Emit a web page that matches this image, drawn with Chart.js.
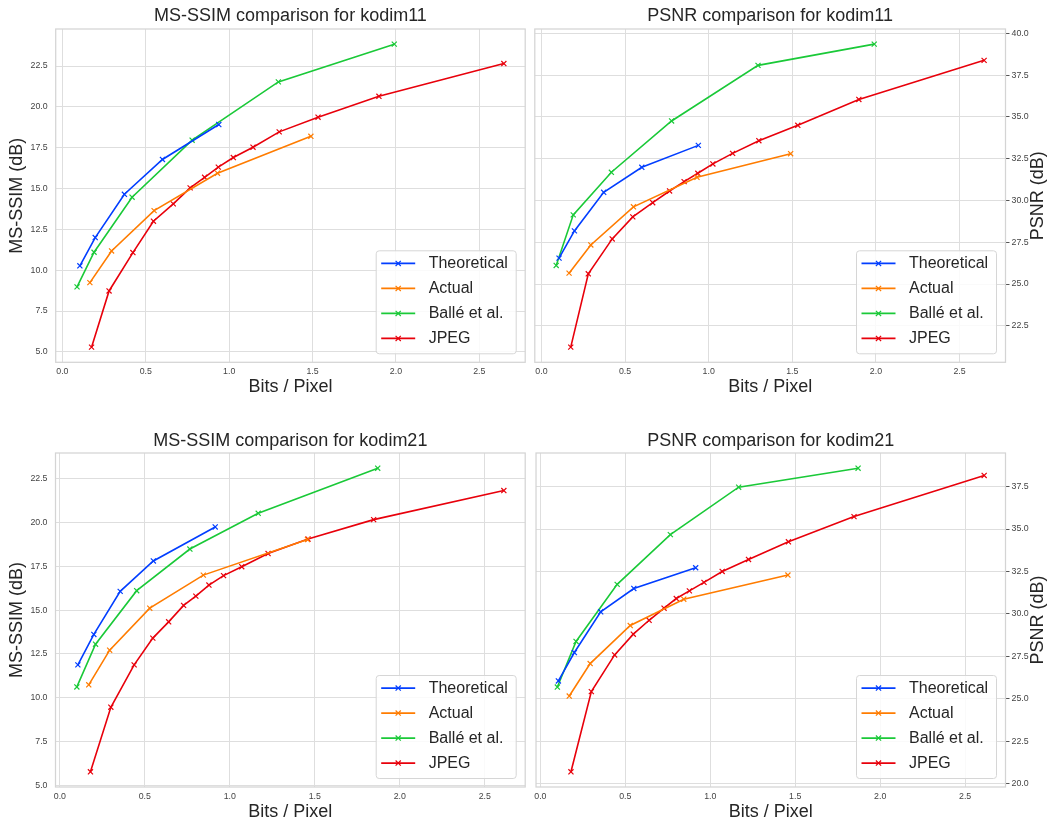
<!DOCTYPE html>
<html lang="en">
<head>
  <meta charset="UTF-8" />
  <title>MS-SSIM / PSNR comparison</title>
  <script src="https://cdn.jsdelivr.net/npm/chart.js"></script>
  <style>
    body {
      margin: 0;
      background: #fff;
    }
    #wrap {
      position: relative;
      width: 1049px;
      height: 821px;
      background: #fff;
    }
    .panel {
      position: absolute;
    }
  </style>
</head>
<body>

  <div id="wrap">
    <div class="panel" style="left:0;top:0;width:530px;height:410px;"><canvas id="ssim11"></canvas></div>
    <div class="panel" style="left:530px;top:0;width:519px;height:410px;"><canvas id="psnr11"></canvas></div>
    <div class="panel" style="left:0;top:410px;width:530px;height:411px;"><canvas id="ssim21"></canvas></div>
    <div class="panel" style="left:530px;top:410px;width:519px;height:411px;"><canvas id="psnr21"></canvas></div>
  </div>

  <script>
    const fontFamily = '"Liberation Sans", Arial, sans-serif';
    Chart.defaults.font.family = fontFamily;
    Chart.defaults.color = '#444';

    // tick labels
    const xTicks = [0, 0.5, 1, 1.5, 2, 2.5];
    const ssimTicks = [5, 7.5, 10, 12.5, 15, 17.5, 20, 22.5];
    const psnr11Ticks = [22.5, 25, 27.5, 30, 32.5, 35, 37.5, 40];
    const psnr21Ticks = [20, 22.5, 25, 27.5, 30, 32.5, 35, 37.5];

    const seriesNames = ['Theoretical', 'Actual', 'Ballé et al.', 'JPEG'];
    const seriesColors = ['#023eff', '#ff7c00', '#1ac938', '#e8000b'];

    // kodim11 - bits per pixel
    const k11TheoBpp = [0.105, 0.197, 0.372, 0.600, 0.938];
    const k11ActBpp = [0.165, 0.295, 0.55, 0.93, 1.49];
    const k11BalleBpp = [0.088, 0.19, 0.418, 0.778, 1.295, 1.99];
    const k11JpegBpp = [0.175, 0.28, 0.423, 0.546, 0.665, 0.766, 0.853, 0.935, 1.025, 1.143, 1.30, 1.533, 1.898, 2.647];

    // kodim11 - MS-SSIM (dB)
    const k11TheoSsim = [10.27, 12.0, 14.65, 16.78, 18.92];
    const k11ActSsim = [9.24, 11.18, 13.65, 15.94, 18.2];
    const k11BalleSsim = [8.98, 11.1, 14.47, 17.96, 21.53, 23.84];
    const k11JpegSsim = [5.29, 8.73, 11.08, 13.0, 14.06, 15.04, 15.69, 16.31, 16.9, 17.53, 18.47, 19.37, 20.65, 22.65];

    // kodim11 - PSNR (dB)
    const k11TheoPsnr = [26.55, 28.18, 30.49, 31.99, 33.30];
    const k11ActPsnr = [25.65, 27.34, 29.62, 31.39, 32.80];
    const k11BallePsnr = [26.11, 29.14, 31.69, 34.76, 38.09, 39.36];
    const k11JpegPsnr = [21.22, 25.61, 27.70, 29.02, 29.87, 30.57, 31.13, 31.63, 32.19, 32.82, 33.58, 34.50, 36.05, 38.39];

    // kodim21 - bits per pixel
    const k21TheoBpp = [0.106, 0.2, 0.355, 0.55, 0.914];
    const k21ActBpp = [0.17, 0.293, 0.529, 0.844, 1.457];
    const k21BalleBpp = [0.1, 0.21, 0.452, 0.765, 1.167, 1.87];
    const k21JpegBpp = [0.18, 0.30, 0.437, 0.547, 0.64, 0.728, 0.80, 0.877, 0.963, 1.07, 1.225, 1.46, 1.846, 2.612];

    // kodim21 - MS-SSIM (dB)
    const k21TheoSsim = [11.87, 13.61, 16.07, 17.81, 19.75];
    const k21ActSsim = [10.73, 12.71, 15.11, 17.0, 19.03];
    const k21BalleSsim = [10.61, 13.05, 16.11, 18.49, 20.53, 23.11];
    const k21JpegSsim = [5.76, 9.45, 11.87, 13.40, 14.33, 15.27, 15.80, 16.43, 16.97, 17.48, 18.23, 19.06, 20.17, 21.83];

    // kodim21 - PSNR (dB)
    const k21TheoPsnr = [26.06, 27.73, 30.13, 31.50, 32.72];
    const k21ActPsnr = [25.17, 27.08, 29.32, 30.87, 32.29];
    const k21BallePsnr = [25.70, 28.38, 31.74, 34.67, 37.46, 38.58];
    const k21JpegPsnr = [20.71, 25.43, 27.59, 28.81, 29.63, 30.34, 30.91, 31.36, 31.86, 32.50, 33.21, 34.25, 35.73, 38.15];

    // box round the plot area
    const frame = {
      id: 'frame',
      beforeDatasetsDraw(chart) {
        const a = chart.chartArea, c = chart.ctx;
        c.save();
        c.strokeStyle = '#d4d4d4';
        c.lineWidth = 1.25;
        c.strokeRect(a.left, a.top, a.right - a.left, a.bottom - a.top);
        c.restore();
      }
    };

    function drawCross(c, x, y, r) {
      c.beginPath();
      c.moveTo(x - r, y - r); c.lineTo(x + r, y + r);
      c.moveTo(x - r, y + r); c.lineTo(x + r, y - r);
      c.stroke();
    }

    // matplotlib-like legend inside the lower right corner
    const boxLegend = {
      id: 'boxLegend',
      afterDatasetsDraw(chart) {
        const a = chart.chartArea, c = chart.ctx;
        const w = 140, h = 103;
        const left = a.right - 9 - w, top = a.bottom - 8.5 - h;
        c.save();
        c.beginPath();
        c.roundRect(left, top, w, h, 3);
        c.fillStyle = 'rgba(255,255,255,0.85)';
        c.fill();
        c.strokeStyle = '#d6d6d6';
        c.lineWidth = 1;
        c.stroke();
        chart.data.datasets.forEach((ds, i) => {
          const y = top + 12.6 + i * 25;
          c.strokeStyle = ds.borderColor;
          c.lineWidth = ds.borderWidth;
          c.beginPath();
          c.moveTo(left + 5, y);
          c.lineTo(left + 39, y);
          c.stroke();
          c.lineWidth = 1.2;
          drawCross(c, left + 22, y, 2.6);
          c.font = '16px ' + fontFamily;
          c.fillStyle = '#262626';
          c.textBaseline = 'middle';
          c.textAlign = 'left';
          c.fillText(ds.label, left + 52.5, y);
        });
        c.restore();
      }
    };

    // y label on the right side, reading upwards
    const rightTitle = {
      id: 'rightTitle',
      afterDraw(chart, args, opts) {
        if (!opts.text) return;
        const a = chart.chartArea, c = chart.ctx;
        c.save();
        c.translate(a.right + 32.5, (a.top + a.bottom) / 2);
        c.rotate(-Math.PI / 2);
        c.font = '18px ' + fontFamily;
        c.fillStyle = '#262626';
        c.textAlign = 'center';
        c.textBaseline = 'middle';
        c.fillText(opts.text, 0, 0);
        c.restore();
      }
    };

    function pts(xs, ys) {
      return xs.map((x, i) => ({ x: x, y: ys[i] }));
    }

    function paddedRange(lists) {
      const all = [].concat(...lists);
      const lo = Math.min(...all), hi = Math.max(...all);
      const m = (hi - lo) * 0.05;
      return [lo - m, hi + m];
    }

    function makePanel(id, p) {
      const xr = paddedRange(p.xs);
      const yr = paddedRange(p.ys);
      const right = p.side === 'right';

      const datasets = seriesNames.map((name, i) => ({
        label: name,
        data: pts(p.xs[i], p.ys[i]),
        borderColor: seriesColors[i],
        backgroundColor: seriesColors[i],
        borderWidth: 1.6,
        pointStyle: 'crossRot',
        pointRadius: 3.6,
        pointBorderWidth: 1.2,
        pointHoverRadius: 3.6,
        tension: 0,
        fill: false
      }));

      const yScale = {
        type: 'linear',
        position: p.side,
        min: yr[0],
        max: yr[1],
        afterBuildTicks: s => { s.ticks = p.yTicks.map(v => ({ value: v })); },
        afterFit: s => { s.width = p.yWidth; },
        border: { display: false },
        grid: {
          color: '#dedede',
          lineWidth: 1,
          drawTicks: right,
          tickLength: 4,
          tickColor: '#555'
        },
        ticks: {
          font: { size: 8.8 },
          color: '#444',
          padding: right ? 2 : 8,
          callback: v => v.toFixed(1)
        },
        title: right ? { display: false } : {
          display: true,
          text: p.yLabel,
          color: '#262626',
          font: { size: 18, lineHeight: 1 },
          padding: { top: 8.5, bottom: 0 }
        }
      };

      new Chart(document.getElementById(id), {
        type: 'line',
        data: { datasets: datasets },
        options: {
          responsive: true,
          maintainAspectRatio: false,
          animation: false,
          devicePixelRatio: 1,
          layout: { padding: p.pad },
          plugins: {
            legend: { display: false },
            tooltip: { enabled: false },
            title: {
              display: true,
              fullSize: false,
              text: p.title,
              color: '#262626',
              font: { size: 18, weight: 'normal', lineHeight: 1.2 },
              padding: p.titlePad
            },
            rightTitle: { text: right ? p.yLabel : '' }
          },
          scales: {
            x: {
              type: 'linear',
              min: xr[0],
              max: xr[1],
              afterBuildTicks: s => { s.ticks = xTicks.map(v => ({ value: v })); },
              afterFit: s => { s.height = p.xHeight; },
              border: { display: false },
              grid: { color: '#dedede', lineWidth: 1, drawTicks: false },
              ticks: {
                font: { size: 8.8 },
                color: '#444',
                padding: 4.2,
                maxRotation: 0,
                autoSkip: false,
                callback: v => v.toFixed(1)
              },
              title: {
                display: true,
                text: 'Bits / Pixel',
                color: '#262626',
                font: { size: 18, lineHeight: 1 },
                padding: { top: 0, bottom: p.xTitlePad }
              }
            },
            y: yScale
          }
        },
        plugins: [frame, boxLegend, rightTitle]
      });
    }

    makePanel('ssim11', {
      title: 'MS-SSIM comparison for kodim11',
      yLabel: 'MS-SSIM (dB)',
      side: 'left',
      yTicks: ssimTicks,
      xs: [k11TheoBpp, k11ActBpp, k11BalleBpp, k11JpegBpp],
      ys: [k11TheoSsim, k11ActSsim, k11BalleSsim, k11JpegSsim],
      pad: { left: 0, right: 4.3, top: 0, bottom: 0 },
      yWidth: 55.7,
      xHeight: 47.7,
      xTitlePad: 14,
      titlePad: { top: 5.2, bottom: 2.2 }
    });

    makePanel('psnr11', {
      title: 'PSNR comparison for kodim11',
      yLabel: 'PSNR (dB)',
      side: 'right',
      yTicks: psnr11Ticks,
      xs: [k11TheoBpp, k11ActBpp, k11BalleBpp, k11JpegBpp],
      ys: [k11TheoPsnr, k11ActPsnr, k11BallePsnr, k11JpegPsnr],
      pad: { left: 4.5, right: 0, top: 0, bottom: 0 },
      yWidth: 43.5,
      xHeight: 47.7,
      xTitlePad: 14,
      titlePad: { top: 5.2, bottom: 2.2 }
    });

    makePanel('ssim21', {
      title: 'MS-SSIM comparison for kodim21',
      yLabel: 'MS-SSIM (dB)',
      side: 'left',
      yTicks: ssimTicks,
      xs: [k21TheoBpp, k21ActBpp, k21BalleBpp, k21JpegBpp],
      ys: [k21TheoSsim, k21ActSsim, k21BalleSsim, k21JpegSsim],
      pad: { left: 0, right: 4.3, top: 0, bottom: 0 },
      yWidth: 55.5,
      xHeight: 34,
      xTitlePad: 0,
      titlePad: { top: 20.7, bottom: 0.7 }
    });

    makePanel('psnr21', {
      title: 'PSNR comparison for kodim21',
      yLabel: 'PSNR (dB)',
      side: 'right',
      yTicks: psnr21Ticks,
      xs: [k21TheoBpp, k21ActBpp, k21BalleBpp, k21JpegBpp],
      ys: [k21TheoPsnr, k21ActPsnr, k21BallePsnr, k21JpegPsnr],
      pad: { left: 4.5, right: 0, top: 0, bottom: 0 },
      yWidth: 43.5,
      xHeight: 34,
      xTitlePad: 0,
      titlePad: { top: 20.7, bottom: 0.7 }
    });
  </script>

</body>
</html>
